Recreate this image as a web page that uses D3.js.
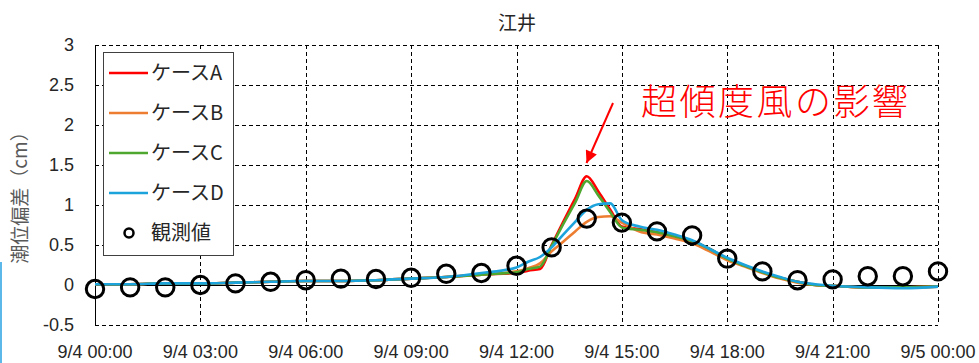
<!DOCTYPE html>
<html><head><meta charset="utf-8">
<script src="https://cdn.jsdelivr.net/npm/d3@7"></script>
<style>body{margin:0;background:#fff}svg{display:block}</style>
</head><body><svg id="c" width="979" height="363"></svg>
<script>
const title = "江井";
const yAxisTitle = "潮位偏差（cm）";
const annotation = "超傾度風の影響";
const xTickHours = [0, 3, 6, 9, 12, 15, 18, 21, 24];
const xTickLabels = ["9/4 00:00", "9/4 03:00", "9/4 06:00", "9/4 09:00", "9/4 12:00", "9/4 15:00", "9/4 18:00", "9/4 21:00", "9/5 00:00"];
const yTicks = [-0.5, 0, 0.5, 1, 1.5, 2, 2.5, 3];
const seriesNames = ["ケースA", "ケースB", "ケースC", "ケースD"];
const obsName = "観測値";

const modelHours = [0,1,2,3,4,5,6,7,8,9,10,11,12,12.33,12.67,13,13.33,13.67,14,14.33,14.67,15,15.5,16,16.5,17,17.5,18,18.5,19,19.5,20,20.5,21,22,23,24];
const caseA = [0.01,0.01,0.02,0.02,0.03,0.04,0.05,0.05,0.06,0.08,0.10,0.13,0.15,0.18,0.20,0.50,0.79,1.08,1.36,1.17,0.94,0.73,0.70,0.66,0.61,0.55,0.45,0.33,0.24,0.16,0.09,0.04,0.00,-0.01,-0.03,-0.03,-0.02];
const caseB = [0.01,0.01,0.02,0.02,0.03,0.04,0.05,0.05,0.06,0.08,0.10,0.13,0.17,0.21,0.27,0.42,0.54,0.67,0.79,0.85,0.86,0.78,0.67,0.63,0.58,0.52,0.42,0.31,0.23,0.15,0.08,0.03,0.00,-0.01,-0.03,-0.03,-0.02];
const caseC = [0.01,0.01,0.02,0.02,0.03,0.04,0.05,0.05,0.06,0.08,0.10,0.13,0.16,0.20,0.23,0.49,0.76,1.03,1.30,1.12,0.91,0.72,0.69,0.66,0.61,0.55,0.45,0.33,0.24,0.16,0.09,0.04,0.00,-0.01,-0.03,-0.03,-0.02];
const caseD = [0.01,0.01,0.02,0.02,0.03,0.04,0.05,0.05,0.06,0.08,0.10,0.15,0.22,0.29,0.35,0.47,0.63,0.79,0.94,1.01,1.02,0.81,0.73,0.69,0.63,0.56,0.45,0.34,0.25,0.17,0.10,0.04,0.01,-0.01,-0.03,-0.04,-0.02];

const obsHours = [0,1,2,3,4,5,6,7,8,9,10,11,12,13,14,15,16,17,18,19,20,21,22,23,24];
const obsValues = [-0.05,-0.03,-0.03,0.00,0.02,0.04,0.06,0.08,0.075,0.09,0.14,0.15,0.24,0.47,0.83,0.78,0.67,0.62,0.33,0.17,0.06,0.07,0.11,0.11,0.17];

const colors = ["#ff0000", "#ed7d31", "#4ea72e", "#1ca3dc"];
const seriesValues = [caseA, caseB, caseC, caseD];

const svg = d3.select("#c");
const x = d3.scaleLinear().domain([0, 24]).range([95, 938]);
const y = d3.scaleLinear().domain([-0.5, 3]).range([325, 45]);
const font = "'Liberation Sans', Arial, sans-serif";
const cjk = "'Noto Sans CJK JP', sans-serif";

// left decorative strip
svg.append("rect").attr("x", 0).attr("y", 262).attr("width", 2).attr("height", 101).attr("fill", "#5bb8e8");

// horizontal gridlines
svg.append("g").selectAll("line").data(yTicks.filter(d => d !== 0)).join("line")
  .attr("x1", x(0)).attr("x2", x(24))
  .attr("y1", d => Math.round(y(d)) + 0.5).attr("y2", d => Math.round(y(d)) + 0.5)
  .attr("stroke", "#000").attr("stroke-width", 1).attr("stroke-dasharray", "4,3");
// vertical gridlines
svg.append("g").selectAll("line").data(xTickHours.filter(d => d !== 0)).join("line")
  .attr("x1", d => Math.round(x(d)) + 0.5).attr("x2", d => Math.round(x(d)) + 0.5)
  .attr("y1", y(3)).attr("y2", y(-0.5))
  .attr("stroke", "#000").attr("stroke-width", 1).attr("stroke-dasharray", "4,3");
// zero line and left axis
svg.append("line").attr("x1", x(0)).attr("x2", x(24)).attr("y1", Math.round(y(0)) + 0.5).attr("y2", Math.round(y(0)) + 0.5).attr("stroke", "#000");
svg.append("line").attr("x1", Math.round(x(0)) + 0.5).attr("x2", Math.round(x(0)) + 0.5).attr("y1", y(3)).attr("y2", y(-0.5)).attr("stroke", "#000");

// y tick labels
svg.append("g").selectAll("text").data(yTicks).join("text")
  .attr("x", 74).attr("y", d => y(d)).attr("dy", "0.36em")
  .attr("text-anchor", "end").attr("font-family", font).attr("font-size", 18).attr("fill", "#262626")
  .text(d => d);
// x tick labels
svg.append("g").selectAll("text").data(xTickHours).join("text")
  .attr("x", d => x(d)).attr("y", 358)
  .attr("text-anchor", "middle").attr("font-family", font).attr("font-size", 18).attr("fill", "#262626")
  .text((d, i) => xTickLabels[i]);

// title
svg.append("text").attr("x", 517).attr("y", 30).attr("text-anchor", "middle")
  .attr("font-family", cjk).attr("font-size", 19).attr("fill", "#262626").text(title);
// y axis title
svg.append("text").attr("transform", "translate(27,193) rotate(-90)").attr("text-anchor", "middle")
  .attr("font-family", cjk).attr("font-size", 19).attr("fill", "#595959").text(yAxisTitle);

// model lines
const line = d3.line().x((d, i) => x(modelHours[i])).y(d => y(d)).curve(d3.curveMonotoneX);
svg.append("g").selectAll("path").data(seriesValues).join("path")
  .attr("d", d => line(d)).attr("fill", "none")
  .attr("stroke", (d, i) => colors[i]).attr("stroke-width", 2.6).attr("stroke-linejoin", "round");

// observations
svg.append("g").selectAll("circle").data(obsValues).join("circle")
  .attr("cx", (d, i) => x(obsHours[i])).attr("cy", d => y(d)).attr("r", 8.7)
  .attr("fill", "none").attr("stroke", "#000").attr("stroke-width", 3);

// legend
const lg = svg.append("g");
lg.append("rect").attr("x", 103.5).attr("y", 52.5).attr("width", 130).attr("height", 203)
  .attr("fill", "#fff").attr("stroke", "#404040").attr("stroke-width", 1);
const rowsY = [73, 113, 153, 193, 233];
seriesNames.forEach((n, i) => {
  lg.append("line").attr("x1", 109).attr("x2", 148).attr("y1", rowsY[i]).attr("y2", rowsY[i])
    .attr("stroke", colors[i]).attr("stroke-width", 2.7);
  lg.append("text").attr("x", 151).attr("y", rowsY[i]).attr("dy", "0.36em")
    .attr("font-family", cjk).attr("font-size", 20).attr("fill", "#262626").text(n);
});
lg.append("circle").attr("cx", 129).attr("cy", rowsY[4]).attr("r", 4.5).attr("fill", "none").attr("stroke", "#000").attr("stroke-width", 2.5);
lg.append("text").attr("x", 151).attr("y", rowsY[4]).attr("dy", "0.36em")
  .attr("font-family", cjk).attr("font-size", 20).attr("fill", "#262626").text(obsName);

// annotation
svg.append("text").attr("x", 641).attr("y", 115).attr("font-family", cjk).attr("font-size", 36)
  .attr("font-weight", 300).attr("fill", "#ff0000").attr("letter-spacing", 2.5).text(annotation);
svg.append("defs").append("marker").attr("id", "ah").attr("viewBox", "0 0 10 10")
  .attr("refX", 10).attr("refY", 5).attr("markerWidth", 8).attr("markerHeight", 6)
  .attr("markerUnits", "strokeWidth").attr("orient", "auto")
  .append("path").attr("d", "M0,0 L10,5 L0,10 Z").attr("fill", "#ff0000");
svg.append("line").attr("x1", 613).attr("y1", 103).attr("x2", 586.5).attr("y2", 163)
  .attr("stroke", "#ff0000").attr("stroke-width", 2).attr("marker-end", "url(#ah)");
</script></body></html>
